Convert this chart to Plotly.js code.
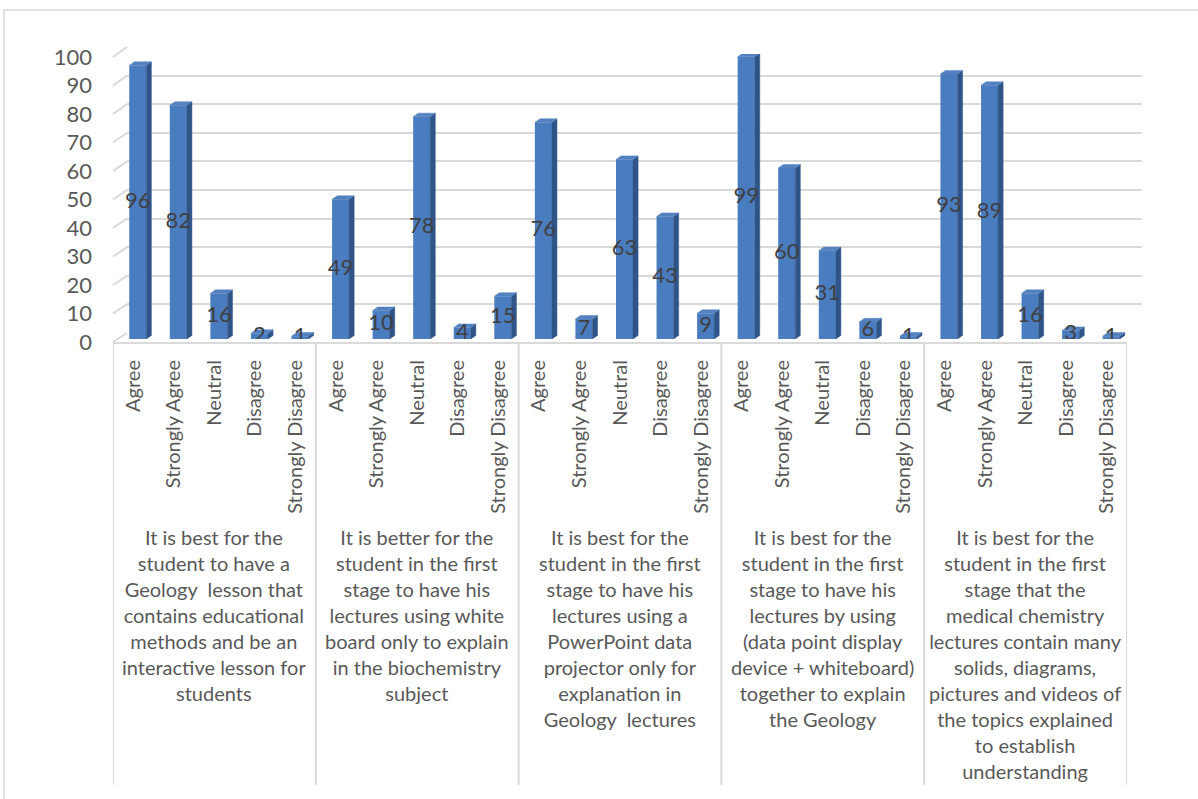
<!DOCTYPE html>
<html>
<head>
<meta charset="utf-8">
<script src="https://cdn.plot.ly/plotly-3.0.1.min.js"></script>
<style>html,body{margin:0;padding:0;background:#fff;}#chart{width:1198px;height:799px;}</style>
</head>
<body>
<div id="chart"></div>
<script>
// ---------- data ----------
const categories = ['Agree', 'Strongly Agree', 'Neutral', 'Disagree', 'Strongly Disagree'];
const groupLabels = [
  'It is best for the<br>student to have a<br>Geology\u00a0 lesson that<br>contains educational<br>methods and be an<br>interactive lesson for<br>students',
  'It is better for the<br>student in the first<br>stage to have his<br>lectures using white<br>board only to explain<br>in the biochemistry<br>subject',
  'It is best for the<br>student in the first<br>stage to have his<br>lectures using a<br>PowerPoint data<br>projector only for<br>explanation in<br>Geology\u00a0 lectures',
  'It is best for the<br>student in the first<br>stage to have his<br>lectures by using<br>(data point display<br>device + whiteboard)<br>together to explain<br>the Geology',
  'It is best for the<br>student in the first<br>stage that the<br>medical chemistry<br>lectures contain many<br>solids, diagrams,<br>pictures and videos of<br>the topics explained<br>to establish<br>understanding'
];
const q1Values = [96, 82, 16, 2, 1];
const q2Values = [49, 10, 78, 4, 15];
const q3Values = [76, 7, 63, 43, 9];
const q4Values = [99, 60, 31, 6, 1];
const q5Values = [93, 89, 16, 3, 1];
const yTicks = [0, 10, 20, 30, 40, 50, 60, 70, 80, 90, 100];

// ---------- build ----------
const groupsValues = [q1Values, q2Values, q3Values, q4Values, q5Values];
const values = [].concat(...groupsValues);
const xs = values.map((v, i) => i);
const tickText = [].concat(...groupsValues.map(() => categories));

const FONT = 'Lato, "Open Sans", sans-serif';
const L = 113, R = 1142, T = 47, B = 342;
const W = R - L, H = B - T;
const fx = px => (px - L) / W;
const fy = py => (B - py) / H;

const barW = 0.42, dx = 0.125, dy = 1.25;
const sideX = [], sideY = [], topX = [], topY = [];
xs.forEach((x, i) => {
  const v = values[i];
  const r = x + barW / 2, l = x - barW / 2;
  sideX.push(r, r + dx, r + dx, r, r, null);
  sideY.push(0, dy, v + dy, v, 0, null);
  topX.push(l, r, r + dx, l + dx, l, null);
  topY.push(v, v, v + dy, v + dy, v, null);
});

const traces = [
  {type: 'scatter', x: [null], y: [null], xaxis: 'x2', yaxis: 'y2', showlegend: false, hoverinfo: 'skip'},
  {type: 'scatter', x: [null], y: [null], xaxis: 'x', yaxis: 'y', showlegend: false, hoverinfo: 'skip'},
  {type: 'scatter', mode: 'lines', x: sideX, y: sideY, xaxis: 'x3', yaxis: 'y3', fill: 'toself',
   fillcolor: '#2f5588', line: {width: 0.5, color: '#2f5588'}, showlegend: false, hoverinfo: 'skip'},
  {type: 'scatter', mode: 'lines', x: topX, y: topY, xaxis: 'x3', yaxis: 'y3', fill: 'toself',
   fillcolor: '#5482c0', line: {width: 0.5, color: '#5482c0'}, showlegend: false, hoverinfo: 'skip'},
  {type: 'bar', x: xs, y: values, width: barW, xaxis: 'x3', yaxis: 'y3',
   marker: {color: '#4a7cc0', line: {width: 0}}, showlegend: false, hoverinfo: 'skip'},
  {type: 'scatter', mode: 'text', x: xs, y: values.map(v => v / 2), text: values.map(String),
   textposition: 'middle center', xaxis: 'x3', yaxis: 'y3',
   textfont: {family: FONT, size: 22, color: '#404040'}, showlegend: false, hoverinfo: 'skip'}
];

const shapes = [];
// outer border
shapes.push({type: 'rect', xref: 'paper', yref: 'paper', x0: fx(4), x1: fx(1215), y0: fy(10), y1: fy(815),
  line: {color: '#d9d9d9', width: 1.5}, fillcolor: 'rgba(0,0,0,0)', layer: 'below'});
// left wall diagonals
yTicks.forEach(v => {
  shapes.push({type: 'line', xref: 'paper', yref: 'paper',
    x0: 0, y0: fy(342 - 2.85 * v), x1: fx(127), y1: fy(333 - 2.86 * v),
    line: {color: '#d9d9d9', width: 2}, layer: 'below'});
});
// group dividers
for (let g = 0; g <= groupsValues.length; g++) {
  shapes.push({type: 'line', xref: 'x', yref: 'paper', x0: g * 5 - 0.5, x1: g * 5 - 0.5,
    y0: fy(342), y1: fy(785), line: {color: '#d9d9d9', width: 2}});
}

const annotations = groupLabels.map((t, g) => ({
  xref: 'x', yref: 'paper', x: g * 5 + 2, y: fy(523), xanchor: 'center', yanchor: 'top',
  text: t, showarrow: false, align: 'center',
  font: {family: FONT, size: 20, color: '#595959'}
}));

const layout = {
  width: 1198, height: 799,
  margin: {l: L, r: 1198 - R, t: T, b: 799 - B, pad: 0},
  paper_bgcolor: '#ffffff', plot_bgcolor: 'rgba(0,0,0,0)',
  showlegend: false,
  font: {family: FONT, color: '#595959'},
  xaxis: {domain: [0, fx(1127)], range: [-0.5, 24.5], anchor: 'y',
    tickmode: 'array', tickvals: xs, ticktext: tickText, tickangle: -90,
    tickfont: {family: FONT, size: 20, color: '#595959'}, ticks: '', ticklabelstandoff: 8,
    showgrid: false, zeroline: false, showline: true, linecolor: '#d9d9d9', linewidth: 2, fixedrange: true},
  yaxis: {domain: [0, fy(57)], range: [0, 100], anchor: 'x', tickmode: 'array', tickvals: yTicks,
    tickfont: {family: FONT, size: 22, color: '#595959'}, ticks: '', ticklabelstandoff: 20,
    showgrid: false, zeroline: false, showline: false, fixedrange: true},
  xaxis2: {domain: [fx(127), 1], range: [-0.5, 24.5], anchor: 'y2', showticklabels: false,
    showgrid: false, zeroline: false, showline: false, ticks: '', fixedrange: true},
  yaxis2: {domain: [fy(333), 1], range: [-0.05, 100.05], anchor: 'x2', tickmode: 'array', tickvals: yTicks,
    showticklabels: false, showgrid: true, gridcolor: '#d9d9d9', gridwidth: 2,
    zeroline: false, showline: false, ticks: '', fixedrange: true},
  xaxis3: {domain: [fx(117.5), fx(1131.5)], range: [-0.5, 24.5], anchor: 'y3', visible: false, fixedrange: true},
  yaxis3: {domain: [fy(339), fy(54)], range: [0, 100], anchor: 'x3', visible: false, fixedrange: true},
  shapes: shapes,
  annotations: annotations
};

Plotly.newPlot('chart', traces, layout, {displayModeBar: false, staticPlot: true});
</script>
</body>
</html>
